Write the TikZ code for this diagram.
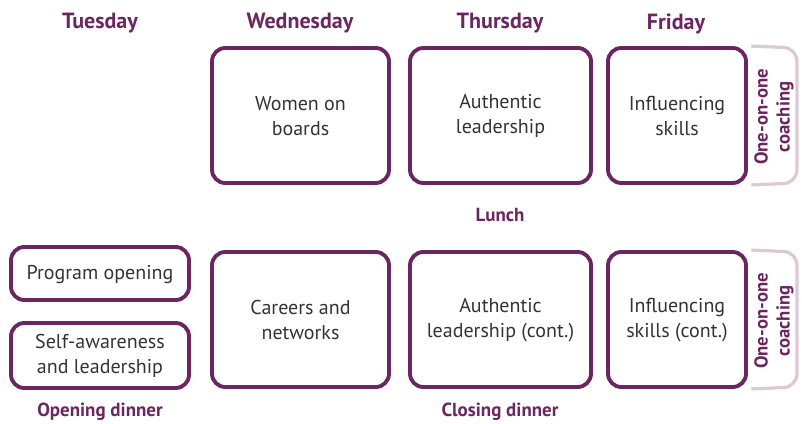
\documentclass[tikz,border=0pt]{standalone}
\usepackage{fontspec}
\setmainfont{PT Sans}
\usetikzlibrary{fit}
\definecolor{plum}{HTML}{6B2560}
\definecolor{lilac}{HTML}{DCC9D6}
\definecolor{ink}{HTML}{333333}
\begin{document}
\begin{tikzpicture}[x=0.75pt,y=-0.75pt,
  day/.style={font=\bfseries\fontsize{16.5}{19}\selectfont, text=plum},
  meal/.style={font=\bfseries\fontsize{14.2}{17}\selectfont, text=plum},
  session/.style={draw=plum, line width=2.9pt, rounded corners=10pt, inner sep=0pt},
  stext/.style={align=center, text=ink, font=\fontsize{15}{18.8}\selectfont, inner sep=0pt, yshift=-0.6pt},
  coach/.style={draw=lilac, line width=2.4pt, rounded corners=10pt},
  coachtext/.style={rotate=90, align=center, text=plum,
    font=\bfseries\fontsize{14}{16.5}\selectfont}]
\useasboundingbox (0,0) rectangle (802,424);
% headers
\node[day] (htue) at (100,23.5) {Tuesday};
\node[day] (hwed) at (300,23.5) {Wednesday};
\node[day] (hthu) at (500,23.5) {Thursday};
\node[day] (hfri) at (676,23.5) {Friday};
% morning
\node[session, fit={(212,48)(389,183)}, label={[stext]center:{Women on\\boards}}] (wed1) {};
\node[session, fit={(410,48)(591,183)}, label={[stext]center:{Authentic\\leadership}}] (thu1) {};
\node[session, fit={(608,48)(746,183)}, label={[stext]center:{Influencing\\skills}}] (fri1) {};
\coordinate (c1a) at (797,48);
\coordinate (c1b) at (797,183);
\draw[coach] ([xshift=2.5pt]fri1.north east) -- (c1a) -- (c1b) -- ([xshift=2.5pt]fri1.south east);
\node[coachtext] (ct1) at (774,117) {One-on-one\\coaching};
% lunch
\node[meal] (lunch) at (500,215) {Lunch};
% afternoon
\node[session, fit={(11,247)(189,300)}, label={[stext]center:{Program opening}}] (prog) {};
\node[session, fit={(11,323)(189,388)}, label={[stext]center:{Self-awareness\\and leadership}}] (self) {};
\node[session, fit={(212,252)(389,387)}, label={[stext]center:{Careers and\\networks}}] (wed2) {};
\node[session, fit={(410,252)(591,387)}, label={[stext]center:{Authentic\\leadership (cont.)}}] (thu2) {};
\node[session, fit={(608,252)(746,387)}, label={[stext]center:{Influencing\\skills (cont.)}}] (fri2) {};
\coordinate (c2a) at (797,252);
\coordinate (c2b) at (797,387);
\draw[coach] ([xshift=2.5pt]fri2.north east) -- (c2a) -- (c2b) -- ([xshift=2.5pt]fri2.south east);
\node[coachtext] (ct2) at (774,321) {One-on-one\\coaching};
% dinners
\node[meal] (odin) at (100,412) {Opening dinner};
\node[meal] (cdin) at (500,412) {Closing dinner};
\end{tikzpicture}
\end{document}
